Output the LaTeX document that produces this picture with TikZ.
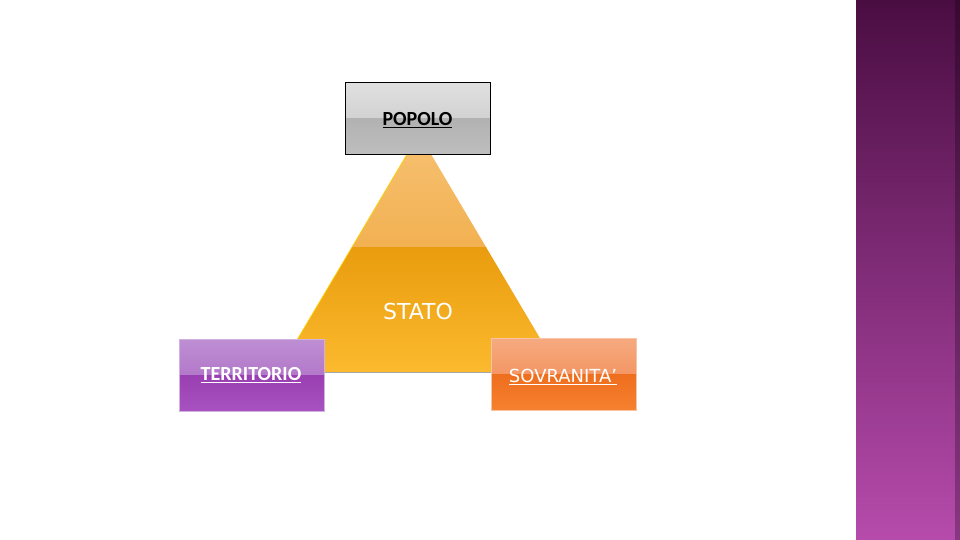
\documentclass[tikz,border=0pt]{standalone}
\usepackage{fontspec}
\setmainfont{Carlito}
\newfontfamily\statofont{DejaVu Sans}
\usetikzlibrary{calc}
\definecolor{barTop}{HTML}{4A0D42}
\definecolor{barBot}{HTML}{B64BAC}
\definecolor{triLight}{HTML}{F7C172}
\definecolor{triLightB}{HTML}{F2B152}
\definecolor{triDarkT}{HTML}{E99C0E}
\definecolor{triDarkB}{HTML}{FCBA2E}
\definecolor{grayA}{HTML}{E0E0E0}
\definecolor{grayB}{HTML}{C3C3C3}
\definecolor{grayC}{HTML}{B2B2B2}
\definecolor{grayD}{HTML}{BEBEBE}
\definecolor{purA}{HTML}{BE8FD3}
\definecolor{purB}{HTML}{A862C0}
\definecolor{purC}{HTML}{9A3FB2}
\definecolor{purD}{HTML}{A852C0}
\definecolor{oraA}{HTML}{F6AA80}
\definecolor{oraB}{HTML}{F18349}
\definecolor{oraC}{HTML}{EE6E1E}
\definecolor{oraD}{HTML}{F5812F}
\tikzset{
  lbl/.style={font=\bfseries\fontsize{20}{22}\selectfont},
  boxbase/.style={minimum width=145pt, minimum height=72pt, inner sep=0pt},
  glossy/.style n args={4}{path picture={
    \shade[top color=#1, bottom color=#2] (path picture bounding box.north west) rectangle (path picture bounding box.east);
    \shade[top color=#3, bottom color=#4] (path picture bounding box.west) rectangle (path picture bounding box.south east);
  }},
}
\begin{document}
\begin{tikzpicture}[x=1pt,y=-1pt]
\useasboundingbox (0,0) rectangle (960,540);
\fill[white] (0,0) rectangle (960,540);
% right bar
\shade[top color=barTop, bottom color=barBot] (856,0) rectangle (960,540);
\fill[black,opacity=0.25] (955,0) rectangle (960,540);
% triangle
\coordinate (apex) at (419,134);
\coordinate (bl) at (278,372);
\coordinate (br) at (560,372);
\begin{scope}
\clip (apex) -- (bl) -- (br) -- cycle;
\shade[top color=triLight, bottom color=triLightB] (270,130) rectangle (570,247);
\shade[top color=triDarkT, bottom color=triDarkB] (270,247) rectangle (570,373);
\end{scope}
\draw[color=yellow!70!orange, line width=0.7pt] (apex) -- (bl);
\draw[color=black!35, line width=1pt] (bl) -- (br);
\node[text=white, font=\statofont\fontsize{22}{24}\selectfont] (stato) at (418,311) {STATO};
% boxes
\node[boxbase, draw=black, line width=0.6pt, glossy={grayA}{grayB}{grayC}{grayD}] (popolo) at (417.5,118.5) {};
\node[lbl, text=black] at (417.5,120) {\underline{POPOLO}};
\node[boxbase, draw=purA!70!white, line width=0.8pt, glossy={purA}{purB}{purC}{purD}] (terr) at (251.5,375) {};
\node[lbl, text=white] at (251,375) {\underline{TERRITORIO}};
\node[boxbase, draw=oraA!70!white, line width=0.8pt, glossy={oraA}{oraB}{oraC}{oraD}] (sovr) at (563.5,374) {};
\node[text=white, font=\statofont\fontsize{18}{20}\selectfont] at (563,377) {\underline{SOVRANITA’}};
\end{tikzpicture}
\end{document}
